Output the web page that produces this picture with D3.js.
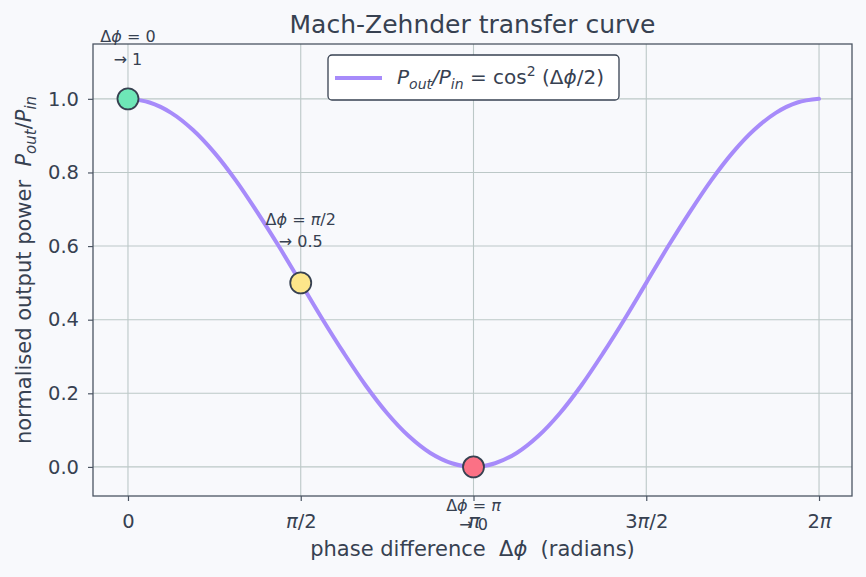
<!DOCTYPE html>
<html>
<head>
<meta charset="utf-8">
<script src="https://cdn.jsdelivr.net/npm/d3@7"></script>
<style>
  body { margin: 0; background: #f8f9fc; }
  text { font-family: "DejaVu Sans", sans-serif; fill: #374151; white-space: pre; }
</style>
</head>
<body>
<svg id="chart"></svg>
<script>
// phase samples in steps of pi/16 (index k -> k*pi/16)
var phaseSteps = d3.range(0, 33);
var transfer = [1.000, 0.990, 0.962, 0.916, 0.854, 0.778, 0.691, 0.598, 0.500,
                0.402, 0.309, 0.222, 0.146, 0.084, 0.038, 0.010, 0.000,
                0.010, 0.038, 0.084, 0.146, 0.222, 0.309, 0.402, 0.500,
                0.598, 0.691, 0.778, 0.854, 0.916, 0.962, 0.990, 1.000];

var markerPhase = [0, Math.PI / 2, Math.PI];
var markerPower = [1, 0.5, 0];
var markerColors = ["#6ee7b7", "#fde68a", "#fb7185"];
var markerNotes = [["Δϕ = 0", "→ 1"], ["Δϕ = π/2", "→ 0.5"], ["Δϕ = π", "→ 0"]];

var xTicks = [0, Math.PI / 2, Math.PI, 3 * Math.PI / 2, 2 * Math.PI];
var xTickLabels = [["0"], ["π", "/2"], ["π"], ["3", "π", "/2"], ["2", "π"]];
var yTicks = [0, 0.2, 0.4, 0.6, 0.8, 1.0];

var W = 866, H = 577;
var margin = {top: 44, right: 14, bottom: 81, left: 93},
    width = W - margin.left - margin.right,
    height = H - margin.top - margin.bottom;

var svg = d3.select("#chart").attr("width", W).attr("height", H);
svg.append("rect").attr("width", W).attr("height", H).attr("fill", "#f8f9fc");

var g = svg.append("g").attr("transform", "translate(" + margin.left + "," + margin.top + ")");

var x = d3.scaleLinear().domain([-0.318, 6.583]).range([0, width]);
var y = d3.scaleLinear().domain([-0.079, 1.149]).range([height, 0]);

// grid
g.selectAll(".gx").data(xTicks).enter().append("line")
  .attr("x1", d => x(d)).attr("x2", d => x(d))
  .attr("y1", 0).attr("y2", height)
  .attr("stroke", "#bcc8c7").attr("stroke-width", 1.1);
g.selectAll(".gy").data(yTicks).enter().append("line")
  .attr("x1", 0).attr("x2", width)
  .attr("y1", d => y(d)).attr("y2", d => y(d))
  .attr("stroke", "#bcc8c7").attr("stroke-width", 1.1);

// axes
var xAxis = g.append("g").attr("transform", "translate(0," + height + ")")
  .call(d3.axisBottom(x).tickValues(xTicks).tickSize(5).tickFormat(""));
xAxis.select(".domain").remove();
xAxis.selectAll("line").attr("stroke", "#4b5563").attr("stroke-width", 1.2);
xAxis.selectAll(".tick").append("text")
  .attr("y", 32).attr("text-anchor", "middle")
  .style("font-size", "19.5px")
  .each(function (d, i) {
    var t = d3.select(this);
    xTickLabels[i].forEach(function (part) {
      t.append("tspan").text(part).style("font-style", part == "π" ? "italic" : "normal");
    });
  });

var yAxis = g.append("g")
  .call(d3.axisLeft(y).tickValues(yTicks).tickSize(5).tickFormat(d3.format(".1f")));
yAxis.select(".domain").remove();
yAxis.selectAll("line").attr("stroke", "#4b5563").attr("stroke-width", 1.2);
yAxis.selectAll("text").style("font-size", "19.5px").attr("x", -14).attr("fill", "#374151")
  .style("font-family", "DejaVu Sans, sans-serif");

g.append("rect").attr("width", width).attr("height", height)
  .attr("fill", "none").attr("stroke", "#4b5563").attr("stroke-width", 1.3);

// curve
var line = d3.line()
  .x((d, i) => x(d * Math.PI / 16))
  .y((d, i) => y(transfer[i]))
  .curve(d3.curveCatmullRom);
g.append("path").datum(phaseSteps)
  .attr("d", line)
  .attr("fill", "none").attr("stroke", "#a78bfa").attr("stroke-width", 4)
  .attr("stroke-linecap", "round");

// markers
g.selectAll(".pt").data(markerPhase).enter().append("circle")
  .attr("cx", d => x(d)).attr("cy", (d, i) => y(markerPower[i]))
  .attr("r", 10.5)
  .attr("fill", (d, i) => markerColors[i])
  .attr("stroke", "#374151").attr("stroke-width", 1.8);

// annotations (baseline offsets from the marker)
var noteDy = [[-57, -34], [-58, -36], [44, 63]];
markerPhase.forEach(function (p, i) {
  markerNotes[i].forEach(function (txt, j) {
    var t = g.append("text")
      .attr("x", x(p))
      .attr("y", y(markerPower[i]) + noteDy[i][j])
      .attr("text-anchor", "middle")
      .style("font-size", "16px");
    if (j == 0) {
      var rest = txt.slice(2);
      t.append("tspan").text("Δ");
      t.append("tspan").text("ϕ").style("font-style", "italic");
      var parts = rest.split("π");
      t.append("tspan").text(parts[0]);
      if (parts.length > 1) {
        t.append("tspan").text("π").style("font-style", "italic");
        t.append("tspan").text(parts[1]);
      }
    } else {
      t.text(txt);
    }
  });
});

// title
svg.append("text").attr("x", margin.left + width / 2).attr("y", 33)
  .attr("text-anchor", "middle").style("font-size", "25px").text("Mach-Zehnder transfer curve");

// axis labels
var xl = svg.append("text").attr("x", margin.left + width / 2).attr("y", 556)
  .attr("text-anchor", "middle").style("font-size", "21px");
xl.append("tspan").text("phase difference  Δ");
xl.append("tspan").text("ϕ").style("font-style", "italic");
xl.append("tspan").text("  (radians)");

var yl = svg.append("text")
  .attr("transform", "translate(31," + (margin.top + height / 2) + ") rotate(-90)")
  .attr("text-anchor", "middle").style("font-size", "21px");
yl.append("tspan").text("normalised output power  ");
yl.append("tspan").text("P").style("font-style", "italic");
yl.append("tspan").text("out").style("font-style", "italic").style("font-size", "15px").attr("dy", 5);
yl.append("tspan").text("/").attr("dy", -5);
yl.append("tspan").text("P").style("font-style", "italic");
yl.append("tspan").text("in").style("font-style", "italic").style("font-size", "15px").attr("dy", 5);

// legend
var lg = svg.append("g").attr("transform", "translate(328,55)");
lg.append("rect").attr("width", 291).attr("height", 45).attr("rx", 4)
  .attr("fill", "#ffffff").attr("stroke", "#374151").attr("stroke-width", 1.3);
lg.append("line").attr("x1", 7).attr("x2", 54).attr("y1", 23).attr("y2", 23)
  .attr("stroke", "#a78bfa").attr("stroke-width", 4);
var lt = lg.append("text").attr("x", 69).attr("y", 29).style("font-size", "20px");
lt.append("tspan").text("P").style("font-style", "italic");
lt.append("tspan").text("out").style("font-style", "italic").style("font-size", "14px").attr("dy", 5);
lt.append("tspan").text("/").style("font-style", "italic").attr("dy", -5);
lt.append("tspan").text("P").style("font-style", "italic");
lt.append("tspan").text("in").style("font-style", "italic").style("font-size", "14px").attr("dy", 5);
lt.append("tspan").text(" = cos").attr("dy", -5);
lt.append("tspan").text("2").style("font-size", "14px").attr("dy", -8);
lt.append("tspan").text(" (Δ").attr("dy", 8);
lt.append("tspan").text("ϕ").style("font-style", "italic");
lt.append("tspan").text("/2)");
</script>
</body>
</html>
